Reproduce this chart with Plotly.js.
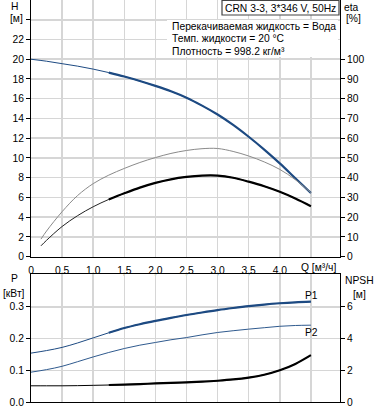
<!DOCTYPE html>
<html>
<head>
<meta charset="utf-8">
<script src="https://cdn.plot.ly/plotly-3.0.1.min.js"></script>
<style>html,body{margin:0;padding:0;background:#fff;}#chart{width:378px;height:410px;}</style>
</head>
<body>
<div id="chart"></div>
<script>
// ---- data ----
const Q      = [0, 0.25, 0.5, 0.75, 1.0, 1.25, 1.5, 1.75, 2.0, 2.25, 2.5, 2.75, 3.0, 3.25, 3.5, 3.75, 4.0, 4.25, 4.5];
const H      = [20, 19.8, 19.55, 19.3, 19.0, 18.65, 18.25, 17.8, 17.3, 16.75, 16.1, 15.3, 14.4, 13.35, 12.15, 10.85, 9.45, 7.95, 6.45];
const etaQ   = [0.16, 0.25, 0.5, 0.75, 1.0, 1.25, 1.5, 1.75, 2.0, 2.25, 2.5, 2.75, 3.0, 3.25, 3.5, 3.75, 4.0, 4.25, 4.5];
const etaUp  = [8.9, 13, 22.8, 31, 37, 41.3, 44.7, 47.7, 50.2, 52.3, 53.8, 54.7, 54.8, 53.3, 51, 48, 44.2, 39, 32.4];
const etaLo  = [5.5, 8.3, 15.3, 20.8, 25.3, 29, 32.1, 35, 37.4, 39.2, 40.4, 41.1, 41.1, 40, 38, 35.7, 32.9, 29.5, 25.6];
const P1     = [0.154, 0.162, 0.172, 0.186, 0.202, 0.218, 0.233, 0.245, 0.2555, 0.265, 0.274, 0.282, 0.2895, 0.296, 0.302, 0.307, 0.311, 0.314, 0.316];
const P2     = [0.094, 0.102, 0.1125, 0.127, 0.142, 0.156, 0.1685, 0.179, 0.1875, 0.196, 0.203, 0.2115, 0.219, 0.2245, 0.2295, 0.234, 0.2385, 0.241, 0.242];
const NPSH   = [1.02, 1.02, 1.02, 1.03, 1.05, 1.07, 1.1, 1.13, 1.17, 1.2, 1.24, 1.28, 1.34, 1.42, 1.54, 1.72, 2.0, 2.4, 2.95];
const thickFrom = 1.25;
const qTicks = [0, 0.5, 1.0, 1.5, 2.0, 2.5, 3.0, 3.5, 4.0, 4.5];
const qTickText = ['0', '0,5', '1,0', '1,5', '2,0', '2,5', '3,0', '3,5', '4,0', ''];
const hTicks = [0,2,4,6,8,10,12,14,16,18,20,22,24];
const hTickText = ['0','2','4','6','8','10','12','14','16','18','20','22',''];
const etaTicks = [0,10,20,30,40,50,60,70,80,90,100];
const pTicks = [0, 0.1, 0.2, 0.3];
const pTickText = ['0.0', '0.1', '0.2', '0.3'];
const npshTicks = [0, 2, 4, 6];
const infoLines = ['Перекачиваемая жидкость = Вода', 'Темп. жидкости = 20 °C', 'Плотность = 998.2 кг/м³'];
const titleBox = 'CRN 3-3, 3*346 V, 50Hz';

// ---- styling ----
const FONT = 'Liberation Sans, Arial, sans-serif';
const FS = 10.3;
const BLUE = '#1d4a82';
const BLUE2 = '#2f5a8e';
const GRID = '#d6d6d6';
const THICK = 2.2;
const L = 31, W = 309, PH = 402;
const px = x => (x - L) / W;
const py = y => (PH - y) / PH;

const iQ = Q.indexOf(thickFrom);
const iE = etaQ.indexOf(thickFrom);

function line(x, y, xa, ya, color, width) {
  return {x: x, y: y, xaxis: xa, yaxis: ya, mode: 'lines', type: 'scatter',
          line: {color: color, width: width, shape: 'spline', smoothing: 1}, hoverinfo: 'skip'};
}

const traces = [
  line(Q, H, 'x', 'y', BLUE, 1),
  line(Q.slice(iQ), H.slice(iQ), 'x', 'y', BLUE, THICK),
  line(etaQ, etaUp, 'x', 'y2', '#8a8a8a', 1),
  line(etaQ, etaLo, 'x', 'y2', '#222', 1),
  line(etaQ.slice(iE), etaLo.slice(iE), 'x', 'y2', '#000', THICK),
  line(Q, P1, 'x2', 'y3', BLUE, 1),
  line(Q.slice(iQ), P1.slice(iQ), 'x2', 'y3', BLUE, THICK),
  line(Q, P2, 'x2', 'y3', BLUE2, 1),
  line(Q, NPSH, 'x2', 'y4', '#000', 1),
  line(Q.slice(iQ), NPSH.slice(iQ), 'x2', 'y4', '#000', THICK)
];

const tf = {family: FONT, size: FS, color: '#000'};
const xr = [0, 4.968];
const common = {showline: true, linecolor: '#000', linewidth: 1, zeroline: false,
                tickfont: tf, tickcolor: '#000', ticklen: 4, ticks: 'outside', fixedrange: true};

function ann(text, x, y, extra) {
  return Object.assign({text: text, x: px(x), y: py(y), xref: 'paper', yref: 'paper',
    showarrow: false, xanchor: 'center', yanchor: 'middle', font: tf}, extra || {});
}

const annotations = [
  ann('H', 14, 7), ann('[м]', 16, 18.5),
  ann('eta', 351, 7.5), ann('[%]', 353, 18.5),
  ann('P', 14, 278), ann('[кВт]', 14, 293),
  ann('NPSH', 359, 280), ann('[м]', 359, 294),
  ann('P1', 311, 295), ann('P2', 311.5, 332),
  ann('Q [м³/ч]', 318, 267),
  ann(titleBox, 280.5, 8),
  ann(infoLines[0], 170, 27, {xanchor: 'left'}),
  ann(infoLines[1], 170, 39, {xanchor: 'left'}),
  ann(infoLines[2], 170, 51, {xanchor: 'left'})
];

const shapes = [
  {type: 'rect', xref: 'paper', yref: 'paper', x0: px(167), x1: px(338), y0: py(20), y1: py(57),
   fillcolor: '#fff', line: {width: 0}, layer: 'above'},
  {type: 'rect', xref: 'paper', yref: 'paper', x0: px(222), x1: px(339), y0: py(15), y1: py(0.5),
   fillcolor: '#fff', line: {color: '#444', width: 1.2}, layer: 'above'}
];

const layout = {
  width: 378, height: 410,
  margin: {l: L, r: 378 - L - W, t: 0, b: 410 - PH},
  paper_bgcolor: '#fff', plot_bgcolor: '#fff',
  showlegend: false,
  font: tf,
  xaxis: Object.assign({}, common, {domain: [0, 1], range: xr, anchor: 'y',
    tickmode: 'array', tickvals: qTicks, ticktext: qTickText, tickcolor: 'rgba(0,0,0,0)',
    showgrid: true, gridcolor: GRID, gridwidth: 1.5}),
  yaxis: Object.assign({}, common, {domain: [py(256.7), 1], range: [0, 26], anchor: 'x',
    tickmode: 'array', tickvals: hTicks, ticktext: hTickText,
    showgrid: true, gridcolor: GRID, gridwidth: 1.5}),
  yaxis2: Object.assign({}, common, {overlaying: 'y', side: 'right', anchor: 'x', range: [0, 130],
    tickmode: 'array', tickvals: etaTicks, showgrid: false}),
  xaxis2: Object.assign({}, common, {domain: [0, 1], range: xr, anchor: 'y3',
    tickmode: 'array', tickvals: qTicks, showticklabels: false, ticks: '', mirror: true,
    showgrid: true, gridcolor: GRID, gridwidth: 1.5}),
  yaxis3: Object.assign({}, common, {domain: [0, py(274)], range: [0, 0.4032], anchor: 'x2',
    tickmode: 'array', tickvals: pTicks, ticktext: pTickText,
    showgrid: true, gridcolor: GRID, gridwidth: 1.5}),
  yaxis4: Object.assign({}, common, {overlaying: 'y3', side: 'right', anchor: 'x2', range: [0, 8.064],
    tickmode: 'array', tickvals: npshTicks, showgrid: false}),
  annotations: annotations,
  shapes: shapes
};

Plotly.newPlot('chart', traces, layout, {staticPlot: true, displayModeBar: false});
</script>
</body>
</html>
